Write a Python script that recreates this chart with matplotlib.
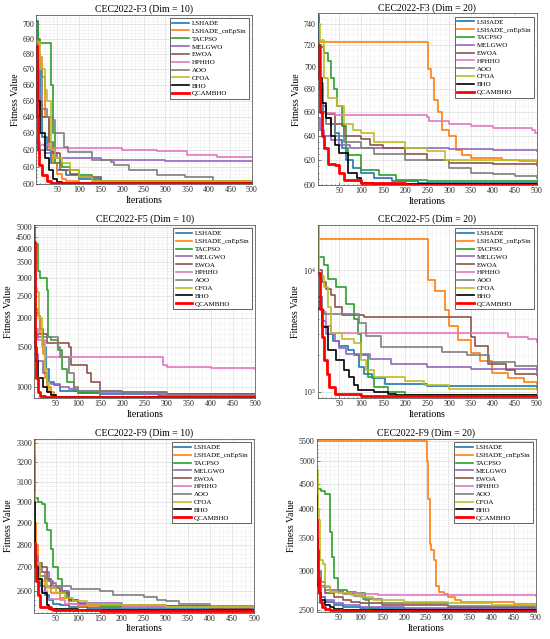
import matplotlib
matplotlib.use("Agg")
import matplotlib.pyplot as plt
from matplotlib.ticker import MultipleLocator, FormatStrFormatter, NullFormatter, LogLocator, LogFormatterMathtext

plt.rcParams['font.family'] = ['Liberation Serif', 'DejaVu Serif']
plt.rcParams['mathtext.fontset'] = 'stix'

# algorithms and colours (legend order)
algorithms = ['LSHADE', 'LSHADE_cnEpSin', 'TACPSO', 'MELGWO', 'EWOA',
              'HPHHO', 'AOO', 'CFOA', 'BHO', 'QCAMBHO']
colors = ['#1f77b4', '#ff7f0e', '#2ca02c', '#9467bd', '#8c564b',
          '#e377c2', '#7f7f7f', '#bcbd22', '#000000', '#ff0000']
titles = ['CEC2022-F3 (Dim = 10)', 'CEC2022-F3 (Dim = 20)',
          'CEC2022-F5 (Dim = 10)', 'CEC2022-F5 (Dim = 20)',
          'CEC2022-F9 (Dim = 10)', 'CEC2022-F9 (Dim = 20)']

# convergence curves: (iteration, best fitness) breakpoints
F3_D10 = [
    [(1, 702), (5, 680), (10, 645), (15, 628), (25, 620), (35, 612), (50, 608), (70, 605), (100, 603), (150, 601.5), (500, 601.2)],
    [(1, 690), (8, 678), (15, 665), (20, 640), (30, 622), (40, 612), (50, 606), (60, 603), (70, 601.5), (100, 600.8), (500, 600.5)],
    [(1, 702), (5, 690), (10, 687), (32, 687), (36, 660), (40, 630), (45, 612), (60, 610), (80, 608), (100, 605), (130, 602), (200, 601.5), (500, 601.3)],
    [(1, 625), (10, 620), (20, 618), (50, 615), (100, 615), (150, 614), (300, 613.5), (500, 613.5)],
    [(1, 668), (5, 650), (15, 640), (30, 625), (40, 618), (55, 608), (80, 606), (100, 604), (150, 602), (500, 601)],
    [(1, 625), (10, 623), (30, 621), (100, 621), (200, 620), (280, 619.5), (350, 617), (420, 616), (500, 615.5)],
    [(1, 685), (5, 670), (15, 645), (25, 640), (40, 638), (45, 630), (65, 622), (75, 619), (125, 619), (130, 614), (175, 613), (180, 611), (215, 608), (275, 608), (280, 605), (330, 605), (345, 604), (410, 602), (420, 601.5), (500, 601.5)],
    [(1, 688), (10, 670), (20, 657), (25, 650), (35, 620), (45, 615), (60, 612), (80, 608), (100, 604), (130, 602), (200, 601.8), (500, 601.8)],
    [(1, 672), (5, 650), (10, 630), (20, 615), (30, 608), (40, 603), (50, 601), (60, 600.5), (500, 600.4)],
    [(1, 685), (3, 640), (5, 620), (8, 611), (15, 605), (25, 602), (35, 600.7), (500, 600.3)],
]
F3_D20 = [
    [(1, 748), (3, 720), (8, 680), (12, 660), (20, 655), (30, 650), (40, 642), (50, 636), (55, 630), (65, 620), (80, 614), (100, 610), (130, 606), (170, 603), (230, 602), (500, 601.5)],
    [(1, 723), (250, 723), (252, 698), (258, 690), (265, 670), (275, 660), (285, 645), (300, 640), (315, 628), (330, 624), (350, 622), (420, 620), (460, 619), (500, 616)],
    [(1, 720), (8, 718), (15, 712), (25, 705), (30, 690), (38, 680), (45, 665), (55, 648), (65, 630), (70, 624), (100, 612), (140, 608), (180, 604), (250, 603), (500, 602.5)],
    [(1, 655), (5, 645), (15, 640), (30, 636), (50, 632), (75, 630), (200, 630), (300, 629), (400, 628), (500, 627)],
    [(1, 700), (5, 680), (10, 665), (20, 658), (40, 650), (60, 640), (100, 637), (120, 632), (150, 630), (200, 625), (250, 620), (300, 618), (400, 617), (500, 616)],
    [(1, 660), (5, 659), (40, 657), (250, 656), (255, 652), (300, 650), (350, 648), (400, 646), (490, 645), (495, 642), (500, 642)],
    [(1, 700), (5, 685), (12, 665), (20, 650), (40, 640), (60, 635), (100, 630), (130, 625), (200, 620), (300, 614), (350, 610), (400, 609), (450, 607), (500, 606)],
    [(1, 740), (5, 725), (15, 690), (25, 672), (45, 665), (60, 650), (80, 645), (100, 642), (130, 635), (200, 630), (250, 627), (290, 620), (500, 620)],
    [(1, 718), (5, 690), (10, 668), (20, 655), (30, 640), (40, 632), (50, 626), (70, 610), (90, 606), (100, 602), (130, 601), (500, 600.5)],
    [(1, 720), (3, 690), (6, 660), (10, 640), (15, 630), (25, 617), (40, 616), (50, 610), (60, 604), (100, 601.5), (200, 600.5), (500, 600.3)],
]
F5_D10 = [
    [(1, 2100), (12, 2050), (15, 1800), (22, 1500), (28, 1200), (35, 1050), (45, 1020), (60, 960), (100, 940), (150, 930), (280, 925), (285, 915), (500, 915)],
    [(1, 2200), (10, 2050), (15, 1700), (20, 1400), (25, 1100), (30, 1000), (40, 950), (45, 905), (500, 902)],
    [(1, 4250), (5, 4200), (10, 3200), (15, 3000), (30, 2650), (32, 1650), (40, 1600), (55, 1450), (65, 1200), (75, 1050), (90, 960), (100, 940), (150, 905), (500, 903)],
    [(1, 1400), (10, 1300), (20, 1150), (30, 1050), (40, 1030), (60, 1000), (80, 980), (100, 960), (150, 945), (250, 935), (500, 930)],
    [(1, 5000), (3, 1700), (30, 1550), (70, 1550), (80, 1500), (85, 1250), (100, 1250), (120, 1150), (130, 1050), (150, 960), (200, 950), (300, 935), (500, 935)],
    [(1, 1800), (10, 1600), (25, 1350), (290, 1350), (292, 1250), (300, 1220), (400, 1210), (500, 1200)],
    [(1, 1700), (10, 1650), (50, 1650), (55, 1500), (60, 1350), (75, 1350), (80, 1150), (90, 1000), (100, 960), (200, 940), (300, 925), (500, 920)],
    [(1, 2700), (8, 2600), (12, 2000), (18, 1500), (25, 1200), (30, 1050), (35, 950), (40, 920), (50, 902), (500, 901)],
    [(1, 1750), (5, 1300), (10, 1100), (20, 1000), (30, 950), (40, 920), (50, 905), (500, 902)],
    [(1, 4300), (2, 2500), (4, 1500), (6, 1100), (10, 950), (15, 910), (25, 901), (500, 900)],
]
F5_D20 = [
    [(1, 6000), (10, 3800), (20, 3500), (30, 3000), (35, 2600), (50, 2400), (70, 2200), (84, 2000), (95, 1600), (107, 1400), (125, 1300), (153, 1170), (250, 1110), (500, 1080)],
    [(1, 17900), (250, 17900), (252, 8300), (267, 6800), (290, 4700), (300, 3500), (320, 2650), (350, 2100), (370, 1800), (397, 1420), (435, 1300), (470, 1200), (500, 1155)],
    [(1, 12800), (15, 11000), (25, 8500), (42, 7300), (65, 5300), (84, 4000), (92, 3000), (100, 2000), (115, 1330), (130, 1100), (160, 1000), (200, 950), (500, 930)],
    [(1, 6000), (10, 3500), (20, 3000), (40, 2600), (50, 2300), (65, 2060), (100, 2060), (120, 1850), (168, 1710), (250, 1600), (350, 1550), (500, 1460)],
    [(1, 10000), (10, 8000), (20, 7000), (30, 6300), (40, 5000), (55, 4300), (107, 4140), (344, 4140), (350, 2830), (360, 2400), (389, 1700), (430, 1510), (450, 1410), (500, 1370)],
    [(1, 5000), (10, 4500), (20, 3500), (30, 3020), (250, 3020), (435, 2830), (480, 2700), (500, 2570)],
    [(1, 5500), (10, 4700), (15, 4400), (90, 4400), (95, 3650), (110, 2900), (145, 2340), (283, 2130), (340, 2000), (390, 1760), (450, 1620), (500, 1530)],
    [(1, 23000), (3, 9000), (16, 7300), (25, 5000), (31, 3020), (55, 2700), (84, 2500), (100, 1820), (110, 1500), (130, 1330), (200, 1220), (244, 1135), (300, 1060), (500, 1030)],
    [(1, 4840), (10, 3420), (25, 2200), (42, 1820), (61, 1510), (72, 1330), (84, 1150), (92, 1030), (130, 1000), (160, 960), (180, 935), (500, 925)],
    [(1, 9500), (6, 4840), (10, 2830), (16, 1820), (21, 1410), (27, 1100), (39, 960), (100, 930), (500, 920)],
]
F9_D10 = [
    [(1, 3240), (3, 2800), (5, 2740), (8, 2650), (15, 2620), (25, 2580), (35, 2560), (45, 2545), (60, 2538), (80, 2530), (120, 2527), (500, 2527)],
    [(1, 3330), (3, 2900), (5, 2800), (10, 2720), (15, 2680), (25, 2620), (40, 2590), (60, 2570), (80, 2545), (100, 2535), (200, 2530), (500, 2528)],
    [(1, 3020), (10, 3000), (20, 2990), (25, 2900), (30, 2870), (40, 2780), (45, 2700), (55, 2650), (65, 2600), (75, 2570), (85, 2555), (100, 2545), (150, 2535), (300, 2530), (500, 2528)],
    [(1, 2750), (10, 2700), (20, 2680), (35, 2640), (45, 2620), (65, 2600), (80, 2560), (100, 2550), (200, 2540), (300, 2535), (400, 2530), (500, 2530)],
    [(1, 2800), (5, 2720), (20, 2700), (30, 2650), (40, 2610), (60, 2590), (80, 2560), (100, 2545), (200, 2535), (400, 2528), (500, 2528)],
    [(1, 2700), (10, 2650), (20, 2600), (30, 2565), (60, 2560), (70, 2545), (100, 2540), (200, 2535), (300, 2530), (500, 2528)],
    [(1, 2800), (5, 2700), (15, 2660), (25, 2640), (40, 2630), (50, 2620), (80, 2620), (85, 2605), (150, 2600), (180, 2580), (250, 2575), (280, 2560), (300, 2555), (330, 2545), (400, 2535), (500, 2530)],
    [(1, 3050), (3, 2800), (5, 2720), (15, 2640), (30, 2610), (50, 2590), (70, 2570), (90, 2555), (120, 2545), (200, 2540), (300, 2533), (500, 2530)],
    [(1, 3000), (3, 2750), (5, 2700), (10, 2650), (20, 2590), (30, 2540), (35, 2525), (100, 2520), (500, 2518)],
    [(1, 2810), (3, 2700), (5, 2640), (10, 2580), (15, 2530), (40, 2525), (45, 2518), (150, 2515), (500, 2514)],
]
F9_D20 = [
    [(1, 3000), (3, 2800), (10, 2650), (20, 2600), (40, 2560), (60, 2540), (100, 2520), (200, 2510), (500, 2502)],
    [(1, 5500), (250, 5500), (252, 5000), (255, 4200), (258, 3400), (262, 3300), (268, 3150), (272, 2800), (280, 2720), (290, 2690), (300, 2660), (315, 2620), (330, 2600), (400, 2590), (450, 2570), (500, 2550)],
    [(1, 4400), (10, 4350), (20, 4300), (30, 3600), (35, 3200), (40, 2900), (50, 2750), (70, 2720), (90, 2700), (110, 2620), (120, 2520), (130, 2495), (500, 2490)],
    [(1, 2900), (10, 2650), (20, 2620), (40, 2580), (60, 2560), (100, 2540), (200, 2525), (500, 2512)],
    [(1, 3000), (5, 2850), (10, 2800), (20, 2700), (40, 2650), (60, 2620), (80, 2600), (100, 2580), (150, 2560), (300, 2540), (500, 2531)],
    [(1, 3000), (10, 2780), (30, 2720), (60, 2700), (100, 2690), (140, 2675), (500, 2670)],
    [(1, 3000), (10, 2850), (20, 2750), (50, 2730), (60, 2690), (85, 2670), (107, 2630), (150, 2580), (300, 2545), (500, 2519)],
    [(1, 4800), (3, 4000), (5, 3800), (8, 3150), (15, 3100), (20, 2800), (30, 2720), (50, 2700), (80, 2680), (100, 2660), (130, 2620), (200, 2600), (300, 2580), (400, 2560), (500, 2551)],
    [(1, 4250), (2, 3500), (3, 2800), (5, 2700), (10, 2620), (20, 2560), (30, 2530), (40, 2510), (60, 2500), (500, 2495)],
    [(1, 3800), (2, 3300), (3, 2900), (5, 2700), (8, 2600), (12, 2540), (20, 2510), (30, 2495), (60, 2490), (500, 2488)],
]

panels = [F3_D10, F3_D20, F5_D10, F5_D20, F9_D10, F9_D20]
y_limits = [(600, 706), (600, 750), (895, 5100), (890, 23500), (2508, 3323), (2475, 5545)]
y_steps = [(10, 2), (20, 5), (500, 100), None, (100, 20), (500, 100)]
positions = [
    [0.066, 0.712, 0.392, 0.265], [0.578, 0.710, 0.398, 0.269],
    [0.062, 0.377, 0.402, 0.271], [0.578, 0.377, 0.398, 0.271],
    [0.062, 0.041, 0.400, 0.272], [0.576, 0.042, 0.398, 0.271],
]

fig = plt.figure(figsize=(5.5, 6.39), dpi=100)

for k, curves in enumerate(panels):
    ax = fig.add_axes(positions[k])
    for name, col, pts in zip(algorithms, colors, curves):
        it = [p[0] for p in pts]
        val = [p[1] for p in pts]
        lw = 2.0 if name == 'QCAMBHO' else 1.2
        ax.plot(it, val, drawstyle='steps-post', color=col, lw=lw, label=name)
    ax.set_yscale('log')
    ax.set_xlim(1, 500)
    ax.set_ylim(*y_limits[k])
    ax.xaxis.set_major_locator(MultipleLocator(50))
    ax.xaxis.set_minor_locator(MultipleLocator(10))
    if y_steps[k] is None:
        ax.yaxis.set_major_locator(LogLocator(base=10))
        ax.yaxis.set_major_formatter(LogFormatterMathtext())
        ax.yaxis.set_minor_locator(LogLocator(base=10, subs=range(2, 10)))
    else:
        ax.yaxis.set_major_locator(MultipleLocator(y_steps[k][0]))
        ax.yaxis.set_major_formatter(FormatStrFormatter('%d'))
        ax.yaxis.set_minor_locator(MultipleLocator(y_steps[k][1]))
    ax.yaxis.set_minor_formatter(NullFormatter())
    ax.grid(True, which='major', color='#dcdcdc', lw=0.5)
    ax.grid(True, which='minor', color='#f0f0f0', lw=0.4)
    ax.tick_params(which='both', direction='in', labelsize=5.8, length=2, width=0.4,
                   pad=1.5, colors='#262626')
    ax.tick_params(which='minor', length=1)
    for s in ax.spines.values():
        s.set_linewidth(0.5)
        s.set_color('#404040')
    ax.set_title(titles[k], fontsize=7, pad=2)
    ax.set_xlabel('Iterations', fontsize=7, labelpad=1)
    ax.set_ylabel('Fitness Value', fontsize=7, labelpad=2)
    leg = ax.legend(loc='upper right', fontsize=5, labelspacing=0.28, handlelength=2.4,
                    handletextpad=0.4, borderpad=0.35, fancybox=False, framealpha=1,
                    edgecolor='#262626', borderaxespad=0.45)
    leg.get_frame().set_linewidth(0.5)

fig.savefig('out.png', dpi=100)
